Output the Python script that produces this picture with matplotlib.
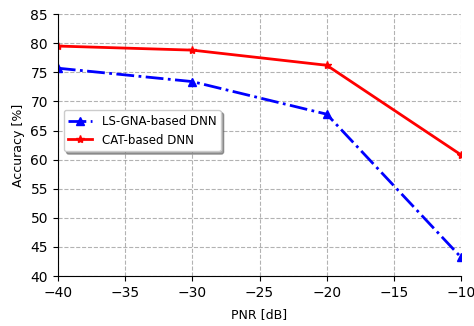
import numpy as np
import matplotlib.pyplot as plt

pnr = [-40, -30, -20, -10]
ls_gna = [75.7, 73.4, 67.8, 43.2]
cat = [79.5, 78.8, 76.2, 60.8]

fig = plt.figure(figsize=(4.74, 3.26), dpi=100)
ax = fig.add_axes([0.122, 0.153, 0.851, 0.804])

ax.plot(pnr, ls_gna, color='blue', linestyle='-.', marker='^', markersize=6,
        linewidth=2, label='LS-GNA-based DNN')
ax.plot(pnr, cat, color='red', linestyle='-', marker='*', markersize=6,
        linewidth=2, label='CAT-based DNN')

ax.set_xlim(-40, -10)
ax.set_ylim(40, 85)
ax.set_xticks(np.arange(-40, -9, 5))
ax.set_yticks(np.arange(40, 86, 5))
ax.grid(True, linestyle='--', color='gray', alpha=0.6)
ax.spines['top'].set_visible(False)
ax.spines['right'].set_visible(False)
ax.tick_params(labelsize=10)

ax.set_xlabel('PNR [dB]', fontsize=9, labelpad=6)
ax.set_ylabel('Accuracy [%]', fontsize=9)
ax.legend(loc='center left', bbox_to_anchor=(0.0, 0.555), shadow=True, fontsize=8.5,
          handlelength=2.0)

plt.savefig('out.png', dpi=100)
